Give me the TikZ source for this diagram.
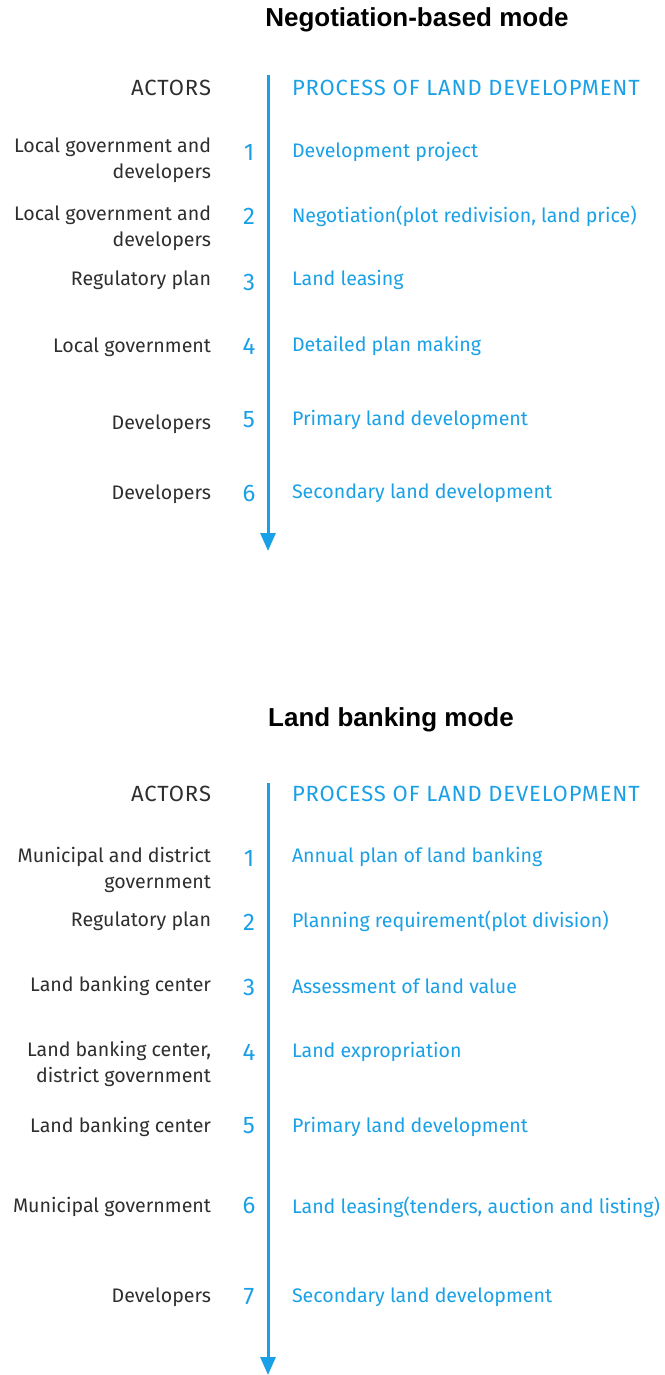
\documentclass[tikz,border=0pt]{standalone}
\usepackage{fontspec}
\setmainfont{Fira Sans}
\newfontfamily\headfont{Liberation Sans}
\newfontfamily\capsfont[LetterSpace=4]{Fira Sans}
\usepackage{xcolor}
\definecolor{procblue}{HTML}{1AA0E6}
\definecolor{actorgray}{HTML}{2E2E2E}
\usepackage{tikz}
\usetikzlibrary{arrows.meta}

\begin{document}
\begin{tikzpicture}[x=1pt, y=-1pt,
			every node/.style={inner sep=0pt, outer sep=0pt},
			modetitle/.style={font=\headfont\bfseries\fontsize{26}{30}\selectfont, text=black},
			actor/.style={anchor=east, align=right, text=actorgray, font=\fontsize{19.6}{26}\selectfont},
			heading/.style={font=\capsfont\fontsize{22}{26}\selectfont},
			stepno/.style={text=procblue, font=\fontsize{24}{26}\selectfont},
			process/.style={anchor=west, text=procblue, font=\fontsize{19.6}{26}\selectfont},
			flow/.style={draw=procblue, line width=3pt, -{Triangle[length=18pt,width=15pt]}},
			]
			\useasboundingbox (0,0) rectangle (664,1375);
			
			% negotiation-based mode
			\node[modetitle] (title1) at (417,20) {Negotiation-based mode};
			\coordinate (top1) at (268,75);
			\coordinate (bot1) at (268,551);
			\draw[flow] (top1) -- (bot1);
			\node[actor, heading] (nactors) at (211,88) {ACTORS};
			\node[process, heading] (nhead) at (292,88) {PROCESS OF LAND DEVELOPMENT};
			
			\node[actor] (na1) at (211,160) {Local government and\\developers};
			\node[stepno] (nn1) at (249,152) {1};
			\node[process] (np1) at (292,152) {Development project};
			
			\node[actor] (na2) at (211,228) {Local government and\\developers};
			\node[stepno] (nn2) at (249,216) {2};
			\node[process] (np2) at (292,216) {Negotiation(plot redivision, land price)};
			
			\node[actor] (na3) at (211,280) {Regulatory plan};
			\node[stepno] (nn3) at (249,282) {3};
			\node[process] (np3) at (292,280) {Land leasing};
			
			\node[actor] (na4) at (211,347) {Local government};
			\node[stepno] (nn4) at (249,346) {4};
			\node[process] (np4) at (292,346) {Detailed plan making};
			
			\node[actor] (na5) at (211,424) {Developers};
			\node[stepno] (nn5) at (249,420) {5};
			\node[process] (np5) at (292,420) {Primary land development};
			
			\node[actor] (na6) at (211,494) {Developers};
			\node[stepno] (nn6) at (249,493) {6};
			\node[process] (np6) at (292,493) {Secondary land development};
			
			% land banking mode
			\node[modetitle] (title2) at (391,720) {Land banking mode};
			\coordinate (top2) at (268,783);
			\coordinate (bot2) at (268,1375);
			\draw[flow] (top2) -- (bot2);
			\node[actor, heading] (bactors) at (211,794) {ACTORS};
			\node[process, heading] (bhead) at (292,794) {PROCESS OF LAND DEVELOPMENT};
			
			\node[actor] (ba1) at (211,870) {Municipal and district\\government};
			\node[stepno] (bn1) at (249,858) {1};
			\node[process] (bp1) at (292,857) {Annual plan of land banking};
			
			\node[actor] (ba2) at (211,921) {Regulatory plan};
			\node[stepno] (bn2) at (249,922) {2};
			\node[process] (bp2) at (292,921) {Planning requirement(plot division)};
			
			\node[actor] (ba3) at (211,986) {Land banking center};
			\node[stepno] (bn3) at (249,987) {3};
			\node[process] (bp3) at (292,986) {Assessment of land value};
			
			\node[actor] (ba4) at (211,1064) {Land banking center,\\district government};
			\node[stepno] (bn4) at (249,1052) {4};
			\node[process] (bp4) at (292,1052) {Land expropriation};
			
			\node[actor] (ba5) at (211,1127) {Land banking center};
			\node[stepno] (bn5) at (249,1126) {5};
			\node[process] (bp5) at (292,1127) {Primary land development};
			
			\node[actor] (ba6) at (211,1207) {Municipal government};
			\node[stepno] (bn6) at (249,1205) {6};
			\node[process] (bp6) at (292,1207) {Land leasing(tenders, auction and listing)};
			
			\node[actor] (ba7) at (211,1297) {Developers};
			\node[stepno] (bn7) at (249,1297) {7};
			\node[process] (bp7) at (292,1297) {Secondary land development};
			
		\end{tikzpicture}
\end{document}
